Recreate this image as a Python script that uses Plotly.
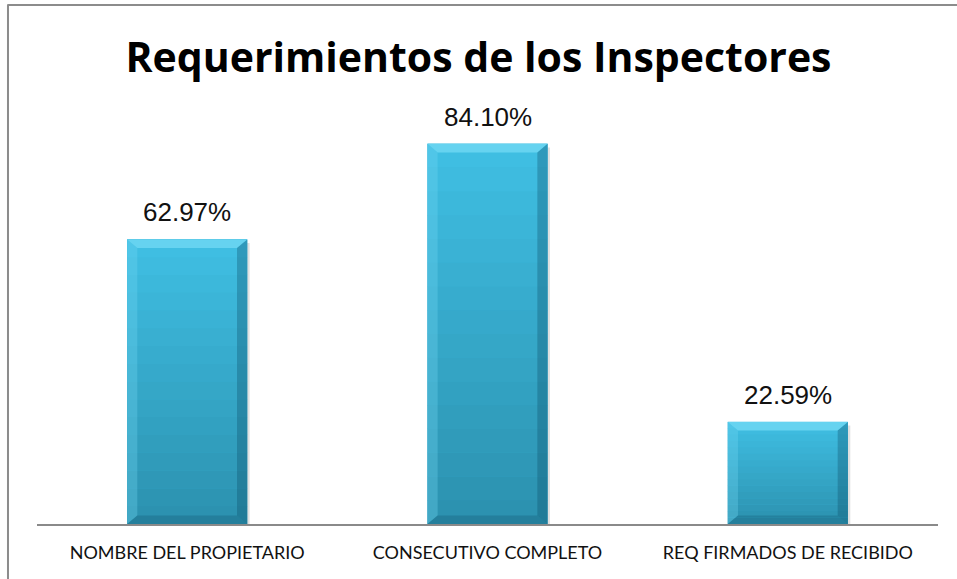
import plotly.graph_objects as go

# Data
categories = ["NOMBRE DEL PROPIETARIO", "CONSECUTIVO COMPLETO", "REQ FIRMADOS DE RECIBIDO"]
values = [62.97, 84.10, 22.59]
labels = ["62.97%", "84.10%", "22.59%"]

BAR_W = 0.4
Y_MAX = 100

fig = go.Figure()
fig.add_trace(go.Bar(
    x=list(range(len(categories))),
    y=values,
    width=BAR_W,
    marker=dict(color="#37aed1", line=dict(width=0)),
    hoverinfo="x+y",
))

# value labels above each bar
annotations = [
    dict(x=i, y=v, xref="x", yref="y", text=t, showarrow=False,
         yanchor="bottom", yshift=10,
         font=dict(family="Liberation Sans, Arial", size=26, color="#111111"))
    for i, (v, t) in enumerate(zip(values, labels))
]


def mix(c1, c2, t):
    a = [int(c1[i:i + 2], 16) for i in (1, 3, 5)]
    b = [int(c2[i:i + 2], 16) for i in (1, 3, 5)]
    return "#%02x%02x%02x" % tuple(round(a[k] + (b[k] - a[k]) * t) for k in range(3))


shapes = []
bev_x = 0.034   # bevel width in category units
bev_y = 1.9     # bevel height in value units
N = 16
for i, v in enumerate(values):
    x0, x1 = i - BAR_W / 2, i + BAR_W / 2
    # soft drop shadow
    shapes.append(dict(type="rect", xref="x", yref="y", x0=x0 + 0.006, x1=x1 + 0.008,
                       y0=-0.6, y1=v - 0.8, fillcolor="rgba(0,0,0,0.12)",
                       line=dict(width=0), layer="below"))
    # vertical gradient body
    for k in range(N):
        t = k / (N - 1)
        shapes.append(dict(type="rect", xref="x", yref="y", x0=x0, x1=x1,
                           y0=v * k / N, y1=v * (k + 1) / N + 0.05,
                           fillcolor=mix("#2c92b0", "#3fbee2", t),
                           line=dict(width=0), layer="above"))
    # top bevel (light)
    shapes.append(dict(type="path", xref="x", yref="y",
                       path=f"M {x0},{v} L {x1},{v} L {x1 - bev_x},{v - bev_y} L {x0 + bev_x},{v - bev_y} Z",
                       fillcolor="#66d3f0", line=dict(width=0), layer="above"))
    # left bevel
    shapes.append(dict(type="path", xref="x", yref="y",
                       path=f"M {x0},{v} L {x0 + bev_x},{v - bev_y} L {x0 + bev_x},{bev_y} L {x0},0 Z",
                       fillcolor="rgba(120,220,245,0.30)", line=dict(width=0), layer="above"))
    # right bevel (dark)
    shapes.append(dict(type="path", xref="x", yref="y",
                       path=f"M {x1},{v} L {x1 - bev_x},{v - bev_y} L {x1 - bev_x},{bev_y} L {x1},0 Z",
                       fillcolor="rgba(10,70,95,0.30)", line=dict(width=0), layer="above"))
    # bottom bevel (dark)
    shapes.append(dict(type="path", xref="x", yref="y",
                       path=f"M {x0},0 L {x1},0 L {x1 - bev_x},{bev_y} L {x0 + bev_x},{bev_y} Z",
                       fillcolor="rgba(10,70,95,0.25)", line=dict(width=0), layer="above"))

# chart area border (top and left edges visible)
shapes.append(dict(type="line", xref="paper", yref="paper", x0=-0.033, x1=1.2, y0=1.148, y1=1.148,
                   line=dict(color="#8c8c8c", width=2)))
shapes.append(dict(type="line", xref="paper", yref="paper", x0=-0.0322, x1=-0.0322, y0=1.148, y1=-0.3,
                   line=dict(color="#8c8c8c", width=2)))

fig.update_layout(
    width=957, height=579,
    margin=dict(l=37, r=19, t=72, b=55),
    paper_bgcolor="white", plot_bgcolor="white",
    title=dict(text="<b>Requerimientos de los Inspectores</b>", x=0.5, xanchor="center",
               y=0.9, yanchor="middle", yref="container",
               font=dict(family="Open Sans, Carlito, Calibri", size=41, color="#000000")),
    showlegend=False,
    bargap=0.6,
    shapes=shapes,
    annotations=annotations,
    xaxis=dict(
        tickmode="array", tickvals=list(range(len(categories))), ticktext=categories,
        range=[-0.5, len(categories) - 0.5],
        showgrid=False, zeroline=False,
        showline=True, linecolor="#8a8a8a", linewidth=2,
        ticks="outside", ticklen=11, tickcolor="rgba(0,0,0,0)",
        tickfont=dict(family="Lato, Carlito, Calibri", size=18, color="#111111"),
        fixedrange=True,
    ),
    yaxis=dict(range=[0, Y_MAX], visible=False, fixedrange=True),
)

fig.write_html("out.html")
